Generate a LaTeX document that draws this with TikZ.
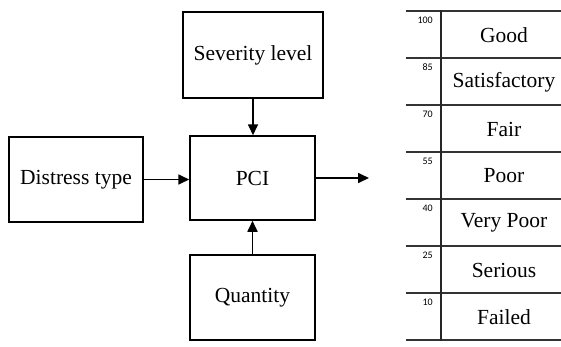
\documentclass[tikz,border=0pt]{standalone}
\usepackage{fontspec}
\setmainfont{Liberation Serif}
\newfontfamily\numfont{Carlito}
\usetikzlibrary{arrows.meta}
\begin{document}
\begin{tikzpicture}[x=1pt,y=-1pt,
  box/.style={draw, line width=1.5pt, inner sep=0pt, font=\fontsize{21.5}{25}\selectfont},
  arr/.style={line width=1.7pt, -{Triangle[length=11pt,width=10pt]}},
  tline/.style={line width=1.8pt, draw=black!80},
  rate/.style={font=\fontsize{21.5}{25}\selectfont, inner sep=0pt},
  num/.style={font=\numfont\fontsize{10}{11}\selectfont, anchor=base east, inner sep=0pt}]
\useasboundingbox (0,0) rectangle (561,346);
% boxes
\node[box, minimum width=140pt, minimum height=86pt] (sev) at (253,55) {Severity level};
\node[box, minimum width=134pt, minimum height=85pt] (dis) at (76,179.5) {Distress type};
\node[box, minimum width=125pt, minimum height=84pt] (pci) at (252.5,178) {PCI};
\node[box, minimum width=125pt, minimum height=85pt] (qty) at (252.5,297.5) {Quantity};
\coordinate (out) at (369,178);
% arrows
\draw[arr] (sev.south) -- (sev.south |- pci.north);
\draw[arr] (dis.east) -- (dis.east -| pci.west);
\draw[arr] (qty.north) -- (pci.south);
\draw[arr] (pci.east) -- (out);
% table
\foreach \k in {0,...,7} {
  \draw[tline] (406,{11+47*\k}) -- (561,{11+47*\k});
}
\draw[line width=1.5pt, draw=black!85] (441,10) -- (441,341);
\foreach \t [count=\i from 0] in {Good,Satisfactory,Fair,Poor,Very Poor,Serious,Failed} {
  \node[rate] (r\i) at (504,{35+47*\i}) {\t};
}
\foreach \n [count=\i from 0] in {100,85,70,55,40,25,10} {
  \node[num] (n\i) at (433,{23+47*\i}) {\n};
}
\end{tikzpicture}
\end{document}
